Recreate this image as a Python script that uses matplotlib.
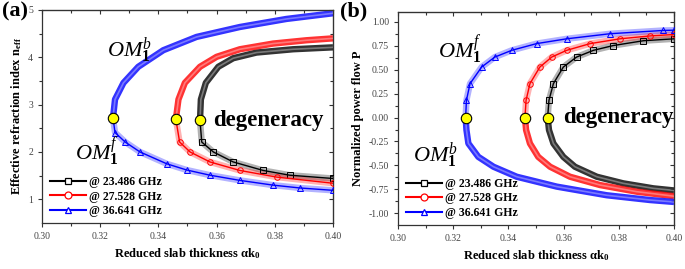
import matplotlib
matplotlib.use('Agg')
import matplotlib.pyplot as plt
from matplotlib.lines import Line2D

plt.rcParams['font.family'] = ['Liberation Serif', 'DejaVu Serif']
plt.rcParams['mathtext.fontset'] = 'custom'
plt.rcParams['mathtext.rm'] = 'Liberation Serif'
plt.rcParams['mathtext.it'] = 'Liberation Serif:italic'
plt.rcParams['mathtext.bf'] = 'Liberation Serif:bold'

labels = ['@ 23.486 GHz', '@ 27.528 GHz', '@ 36.641 GHz']
colors = ['black', 'red', 'blue']
markers = ['s', 'o', '^']

# ---- panel (a): effective index vs reduced thickness ----
a_black_up_x = [0.3543, 0.3546, 0.3563, 0.3606, 0.3657, 0.3737, 0.3863, 0.4000]
a_black_up_y = [2.67, 3.11, 3.46, 3.80, 3.98, 4.10, 4.17, 4.21]
a_black_lo_x = [0.3543, 0.3549, 0.3589, 0.3657, 0.3760, 0.3851, 0.4000]
a_black_lo_y = [2.67, 2.21, 2.00, 1.79, 1.61, 1.51, 1.44]

a_red_up_x = [0.3460, 0.3469, 0.3491, 0.3543, 0.3600, 0.3680, 0.3794, 0.3909, 0.4000]
a_red_up_y = [2.69, 3.11, 3.46, 3.80, 4.01, 4.17, 4.29, 4.36, 4.40]
a_red_lo_x = [0.3460, 0.3473, 0.3509, 0.3577, 0.3680, 0.3806, 0.4000]
a_red_lo_y = [2.69, 2.21, 2.00, 1.79, 1.61, 1.47, 1.34]

a_blue_up_x = [0.3244, 0.3251, 0.3280, 0.3331, 0.3417, 0.3531, 0.3680, 0.3840, 0.4000]
a_blue_up_y = [2.72, 3.11, 3.46, 3.80, 4.15, 4.43, 4.64, 4.81, 4.93]
a_blue_lo_x = [0.3244, 0.3251, 0.3286, 0.3337, 0.3429, 0.3497, 0.3577, 0.3680, 0.3794, 0.3886, 0.4000]
a_blue_lo_y = [2.72, 2.41, 2.21, 2.00, 1.75, 1.62, 1.51, 1.40, 1.30, 1.24, 1.19]

# ---- panel (b): normalized power flow vs reduced thickness ----
b_black_up_x = [0.3542, 0.3547, 0.3563, 0.3599, 0.3647, 0.3708, 0.3780, 0.3889, 0.4000]
b_black_up_y = [0.0, 0.18, 0.353, 0.526, 0.63, 0.70, 0.75, 0.80, 0.82]
b_black_lo_x = [0.3542, 0.3547, 0.3563, 0.3599, 0.3641, 0.3720, 0.3816, 0.3925, 0.4000]
b_black_lo_y = [0.0, -0.13, -0.27, -0.41, -0.513, -0.617, -0.686, -0.738, -0.76]

b_red_up_x = [0.3460, 0.3464, 0.3478, 0.3514, 0.3557, 0.3611, 0.3696, 0.3804, 0.3913, 0.4000]
b_red_up_y = [0.0, 0.18, 0.353, 0.526, 0.63, 0.70, 0.77, 0.82, 0.85, 0.865]
b_red_lo_x = [0.3460, 0.3464, 0.3478, 0.3508, 0.3551, 0.3623, 0.3732, 0.3865, 0.4000]
b_red_lo_y = [0.0, -0.13, -0.27, -0.41, -0.513, -0.617, -0.704, -0.773, -0.82]

b_blue_up_x = [0.3245, 0.3248, 0.3261, 0.3303, 0.3351, 0.3412, 0.3502, 0.3611, 0.3768, 0.3960, 0.4000]
b_blue_up_y = [0.0, 0.18, 0.353, 0.526, 0.63, 0.70, 0.77, 0.82, 0.873, 0.907, 0.91]
b_blue_lo_x = [0.3245, 0.3248, 0.3255, 0.3291, 0.3346, 0.3430, 0.3575, 0.3756, 0.3913, 0.4000]
b_blue_lo_y = [0.0, -0.13, -0.27, -0.41, -0.513, -0.617, -0.72, -0.81, -0.86, -0.88]

fig = plt.figure(figsize=(6.85, 2.69), dpi=100)
axA = fig.add_axes([0.0613, 0.171, 0.4248, 0.792])
axB = fig.add_axes([0.581, 0.1636, 0.403, 0.792])

def branch(ax, x, y, c, m, dense):
    if dense:
        ax.plot(x, y, color=c, lw=4.6, alpha=0.8, solid_capstyle='butt', zorder=2)
        ax.plot(x, y, color='white', lw=1.2, alpha=0.35, zorder=3)
    else:
        ax.plot(x, y, color=c, lw=4.6, alpha=0.3, solid_capstyle='butt', zorder=2)
        ax.plot(x, y, color=c, lw=1.0, zorder=3, marker=m, ms=4, mfc='none', mec=c, mew=0.7)

a_sets = [(a_black_up_x, a_black_up_y, a_black_lo_x, a_black_lo_y),
          (a_red_up_x, a_red_up_y, a_red_lo_x, a_red_lo_y),
          (a_blue_up_x, a_blue_up_y, a_blue_lo_x, a_blue_lo_y)]
b_sets = [(b_black_up_x, b_black_up_y, b_black_lo_x, b_black_lo_y),
          (b_red_up_x, b_red_up_y, b_red_lo_x, b_red_lo_y),
          (b_blue_up_x, b_blue_up_y, b_blue_lo_x, b_blue_lo_y)]

for (ux, uy, lx, ly), c, m in zip(a_sets, colors, markers):
    branch(axA, ux, uy, c, m, True)
    branch(axA, lx, ly, c, m, False)
    axA.plot(ux[0], uy[0], 'o', ms=7.5, mfc='#ffff00', mec='black', mew=0.8, zorder=5)

for (ux, uy, lx, ly), c, m in zip(b_sets, colors, markers):
    branch(axB, ux, uy, c, m, False)
    branch(axB, lx, ly, c, m, True)
    axB.plot(ux[0], uy[0], 'o', ms=7.5, mfc='#ffff00', mec='black', mew=0.8, zorder=5)

for ax in (axA, axB):
    ax.set_xlim(0.30, 0.40)
    ax.set_xticks([0.30, 0.32, 0.34, 0.36, 0.38, 0.40])
    ax.set_xticks([0.31, 0.33, 0.35, 0.37, 0.39], minor=True)
    ax.xaxis.set_major_formatter(matplotlib.ticker.FormatStrFormatter('%.2f'))
    ax.tick_params(which='both', direction='out', labelsize=7, colors='#333333', labelcolor='#444444', width=0.8)
    ax.tick_params(which='major', length=3)
    ax.tick_params(which='minor', length=2)
    for s in ax.spines.values():
        s.set_linewidth(0.9)
        s.set_color('#333333')
    ax.set_xlabel('Reduced slab thickness \u03b1k$_\\mathbf{0}$', fontsize=9, fontweight='bold', labelpad=4)
    sec = ax.secondary_xaxis('top')
    sec.set_xticks([0.30, 0.32, 0.34, 0.36, 0.38, 0.40])
    sec.set_xticks([0.31, 0.33, 0.35, 0.37, 0.39], minor=True)
    sec.tick_params(which='both', direction='in', labeltop=False, width=0.8, colors='#333333')
    sec.tick_params(which='major', length=3)
    sec.tick_params(which='minor', length=2)
    handles = [Line2D([0], [0], color=c, lw=1.5, marker=m, ms=5, mfc='white', mec=c, mew=0.9)
               for c, m in zip(colors, markers)]
    ax.legend(handles, labels, loc='lower left', bbox_to_anchor=(0.0, -0.01), frameon=False,
              prop={'weight': 'bold', 'size': 8.5}, handlelength=3.0, labelspacing=0.2,
              handletextpad=0.3, borderaxespad=0.3)

axA.set_ylim(0.5, 5.0)
axA.set_yticks([1, 2, 3, 4, 5])
axA.set_yticks([1.5, 2.5, 3.5, 4.5], minor=True)
axA.set_ylabel(r'Effective refraction index n$_\mathbf{eff}$', fontsize=9, fontweight='bold', labelpad=3)
secA = axA.secondary_yaxis('right')
secA.set_yticks([1, 2, 3, 4, 5])
secA.set_yticks([1.5, 2.5, 3.5, 4.5], minor=True)
secA.tick_params(which='both', direction='in', labelright=False, width=0.8, colors='#333333')
secA.tick_params(which='major', length=3)
secA.tick_params(which='minor', length=2)

axB.set_ylim(-1.12, 1.10)
yt = [-1.0, -0.75, -0.5, -0.25, 0.0, 0.25, 0.5, 0.75, 1.0]
axB.set_yticks(yt)
axB.set_yticks([-0.875, -0.625, -0.375, -0.125, 0.125, 0.375, 0.625, 0.875], minor=True)
axB.yaxis.set_major_formatter(matplotlib.ticker.FormatStrFormatter('%.2f'))
axB.set_ylabel('Normalized power flow P', fontsize=9, fontweight='bold', labelpad=3)
secB = axB.secondary_yaxis('right')
secB.set_yticks(yt)
secB.set_yticks([-0.875, -0.625, -0.375, -0.125, 0.125, 0.375, 0.625, 0.875], minor=True)
secB.tick_params(which='both', direction='in', labelright=False, width=0.8, colors='#333333')
secB.tick_params(which='major', length=3)
secB.tick_params(which='minor', length=2)

axA.text(0.3223, 4.15, r'$\mathit{OM}_{\mathbf{1}}^{\mathit{b}}$', fontsize=16, va='center', ha='left')
axA.text(0.3114, 2.0, r'$\mathit{OM}_{\mathbf{1}}^{\mathit{f}}$', fontsize=16, va='center', ha='left')
axA.text(0.3589, 2.67, 'degeneracy', fontsize=16.5, fontweight='bold', va='center', ha='left')

axB.text(0.3145, 0.70, r'$\mathit{OM}_{\mathbf{1}}^{\mathit{f}}$', fontsize=16, va='center', ha='left')
axB.text(0.3054, -0.40, r'$\mathit{OM}_{\mathbf{1}}^{\mathit{b}}$', fontsize=16, va='center', ha='left')
axB.text(0.3598, 0.0, 'degeneracy', fontsize=16.5, fontweight='bold', va='center', ha='left')

fig.text(0.003, 0.995, '(a)', fontsize=16, fontweight='bold', va='top', ha='left')
fig.text(0.497, 0.995, '(b)', fontsize=16, fontweight='bold', va='top', ha='left')

fig.savefig('out.png', dpi=100)
